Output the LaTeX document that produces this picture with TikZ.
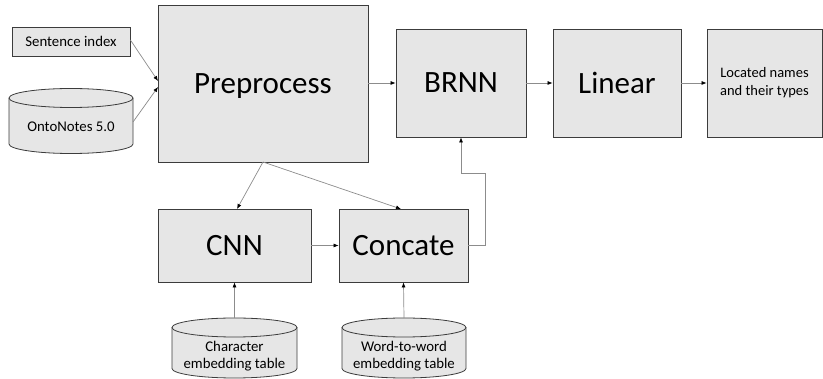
\documentclass[tikz,border=0pt]{standalone}
\usepackage{fontspec}
\setmainfont{Carlito}
\usetikzlibrary{arrows.meta}
\definecolor{boxfill}{RGB}{230,230,230}
\definecolor{boxline}{RGB}{60,60,60}
\definecolor{wire}{RGB}{140,140,140}
\begin{document}
\begin{tikzpicture}[x=1pt,y=1pt,
  block/.style={draw=boxline,fill=boxfill,line width=0.8pt,inner sep=0pt,align=center},
  bigtext/.style={font=\fontsize{31}{35}\selectfont,text depth=0pt},
  smalltext/.style={font=\fontsize{14.8}{18}\selectfont},
  dbtext/.style={inner sep=0pt,align=center,font=\fontsize{14.8}{17.5}\selectfont},
  wirearrow/.style={draw=wire,line width=0.7pt,-{Latex[length=5pt,width=4pt,black]}},
]
\useasboundingbox (0,0) rectangle (823,-379);

% cylinder: #1 left x, #2 right x, #3 top rim centre y, #4 bottom rim centre y
\newcommand{\dbcyl}[4]{%
  \pgfmathsetmacro{\rx}{(#2-#1)/2}%
  \pgfmathsetmacro{\cx}{(#2+#1)/2}%
  \fill[boxfill] (#1,#3) -- (#1,#4) arc[start angle=180,end angle=360,x radius=\rx,y radius=9.5]
     -- (#2,#3) arc[start angle=0,end angle=180,x radius=\rx,y radius=9.5] -- cycle;
  \draw[boxline,line width=0.8pt] (#1,#3) -- (#1,#4) arc[start angle=180,end angle=360,x radius=\rx,y radius=9.5] -- (#2,#3);
  \draw[boxline,line width=0.8pt] (\cx,#3) ellipse[x radius=\rx,y radius=9.5];
}

% inputs
\node[block,smalltext,minimum width=118,minimum height=29] (sent) at (71,-41.5) {Sentence index};
\dbcyl{9}{133}{-98}{-144}
\node[dbtext] (onto) at (71,-127) {OntoNotes 5.0};
\coordinate (ontoR) at (133,-122);

% main pipeline
\node[block,bigtext,minimum width=210,minimum height=157] (pre) at (263,-83.5) {Preprocess};
\node[block,bigtext,minimum width=130,minimum height=108] (brnn) at (461,-83) {BRNN};
\node[block,bigtext,minimum width=128,minimum height=108] (lin) at (617,-83) {Linear};
\node[block,font=\fontsize{14.5}{18}\selectfont,minimum width=115,minimum height=108] (out) at (764.5,-83) {Located names\\and their types};

% embedding branch
\node[block,bigtext,minimum width=153,minimum height=73] (cnn) at (234.5,-245.5) {CNN};
\node[block,bigtext,minimum width=129,minimum height=73] (cat) at (403.5,-245.5) {Concate};

\dbcyl{172}{297}{-327.5}{-368.5}
\node[dbtext] (chr) at (234.5,-356) {Character\\embedding table};
\coordinate (chrT) at (234.5,-318);
\dbcyl{342}{466}{-327.5}{-368.5}
\node[dbtext] (wrd) at (404,-356) {Word-to-word\\embedding table};
\coordinate (wrdT) at (404,-318);

% connectors
\coordinate (preIn1) at (158,-81);
\coordinate (preIn2) at (158,-87);
\coordinate (preOut) at (263,-162);
\draw[wirearrow] (sent.east |- 0,-40) -- (preIn1);
\draw[wirearrow] (ontoR) -- (preIn2);
\draw[wirearrow] (pre.east |- brnn.west) -- (brnn.west);
\draw[wirearrow] (brnn) -- (lin);
\draw[wirearrow] (lin) -- (out);
\draw[wirearrow] (preOut) -- (237,-209);
\draw[wirearrow] (preOut) -- (401,-209);
\draw[wirearrow] (cnn) -- (cat);
\draw[wirearrow] (chrT) -- (cnn.south);
\draw[wirearrow] (wrdT) -- (cat.south);
\draw[wirearrow] (cat.east) -- (485,-245.5) -- (485,-173) -- (461,-173) -- (brnn.south);
\end{tikzpicture}
\end{document}
